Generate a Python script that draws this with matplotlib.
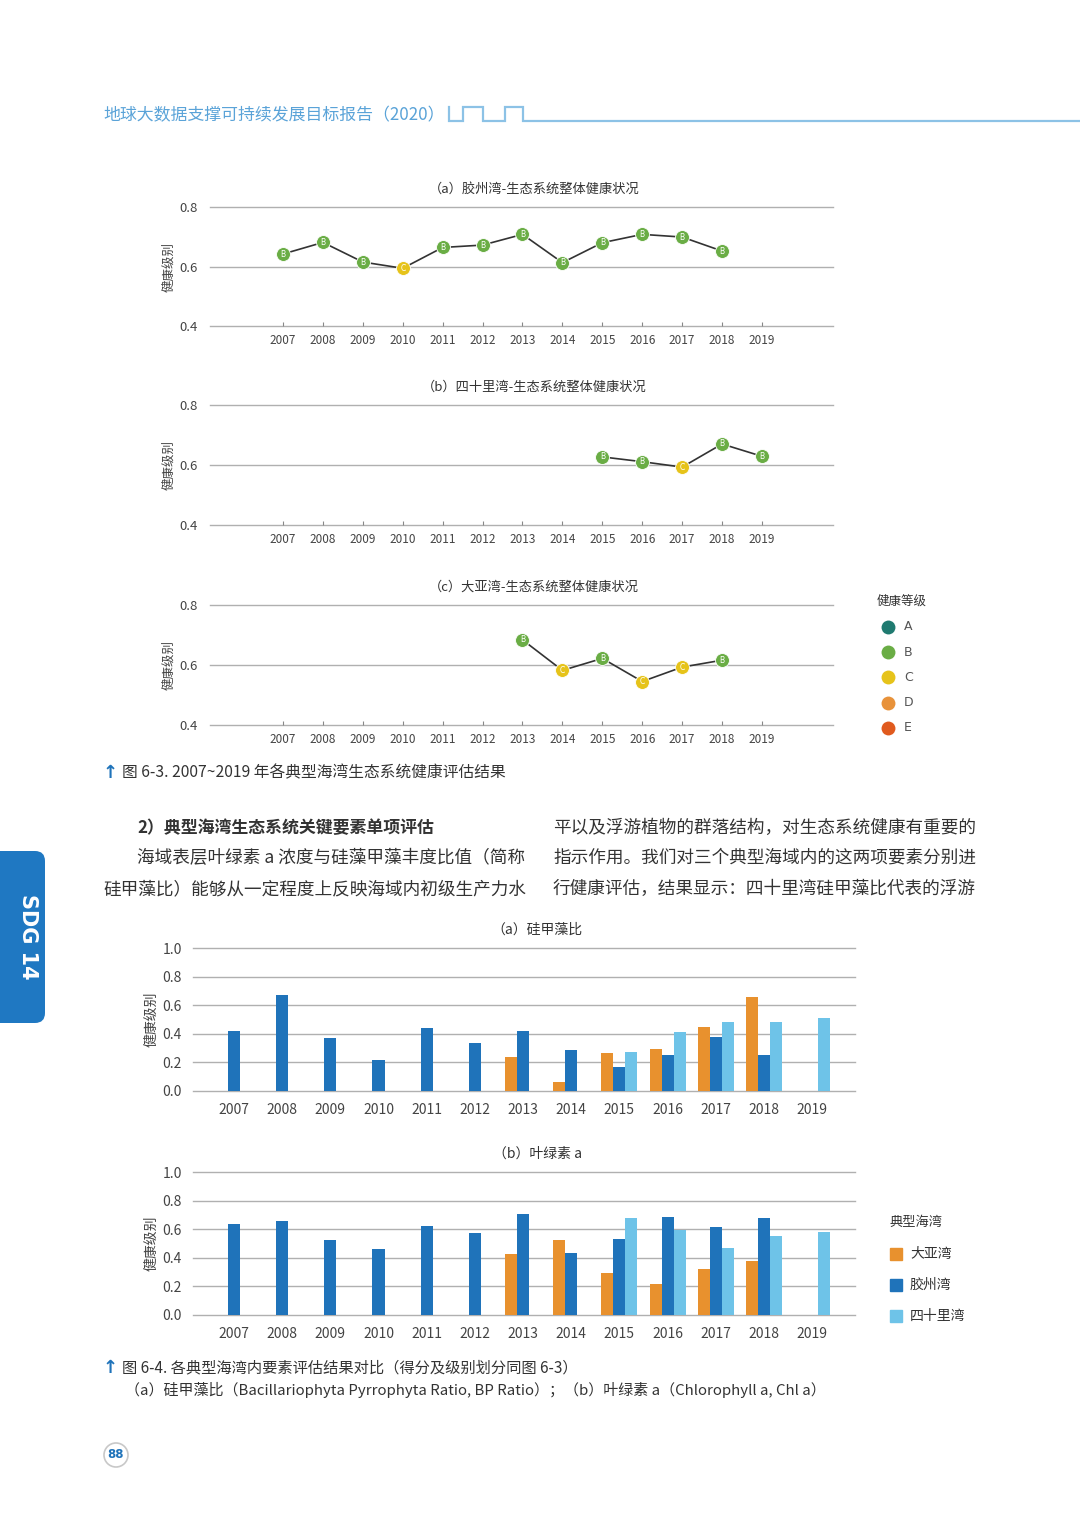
import matplotlib
matplotlib.use("Agg")
import matplotlib.pyplot as plt
from matplotlib.patches import FancyBboxPatch, Circle, Rectangle
import numpy as np

plt.rcParams['font.family'] = ['Noto Sans CJK SC', 'DejaVu Sans']
plt.rcParams['axes.unicode_minus'] = False

W, H = 1080, 1527

# ---------------- data ----------------
years = list(range(2007, 2020))

# (a) 胶州湾 overall health
jzw_years = list(range(2007, 2019))
jzw_vals = [0.642, 0.681, 0.615, 0.594, 0.664, 0.672, 0.708, 0.613, 0.680, 0.708, 0.699, 0.652]
jzw_grades = ['B', 'B', 'B', 'C', 'B', 'B', 'B', 'B', 'B', 'B', 'B', 'B']

# (b) 四十里湾 overall health
slw_years = [2015, 2016, 2017, 2018, 2019]
slw_vals = [0.627, 0.611, 0.593, 0.670, 0.629]
slw_grades = ['B', 'B', 'C', 'B', 'B']

# (c) 大亚湾 overall health
dyw_years = [2013, 2014, 2015, 2016, 2017, 2018]
dyw_vals = [0.684, 0.582, 0.622, 0.545, 0.593, 0.616]
dyw_grades = ['B', 'C', 'B', 'C', 'C', 'B']

grade_names = ['A', 'B', 'C', 'D', 'E']
grade_colors = {'A': '#1f7a70', 'B': '#6aad45', 'C': '#e6c31a', 'D': '#e8923a', 'E': '#e05a1e'}

# Bar chart (a) 硅甲藻比
bp_dyw = {2013: 0.239, 2014: 0.063, 2015: 0.265, 2016: 0.291, 2017: 0.448, 2018: 0.660}
bp_jzw = {2007: 0.423, 2008: 0.674, 2009: 0.369, 2010: 0.214, 2011: 0.444, 2012: 0.333,
          2013: 0.423, 2014: 0.286, 2015: 0.167, 2016: 0.251, 2017: 0.378, 2018: 0.251}
bp_slw = {2015: 0.272, 2016: 0.411, 2017: 0.481, 2018: 0.481, 2019: 0.507}

# Bar chart (b) 叶绿素 a
chl_dyw = {2013: 0.430, 2014: 0.526, 2015: 0.296, 2016: 0.218, 2017: 0.322, 2018: 0.376}
chl_jzw = {2007: 0.638, 2008: 0.657, 2009: 0.526, 2010: 0.460, 2011: 0.620, 2012: 0.573,
           2013: 0.709, 2014: 0.434, 2015: 0.533, 2016: 0.685, 2017: 0.617, 2018: 0.678}
chl_slw = {2015: 0.676, 2016: 0.596, 2017: 0.472, 2018: 0.554, 2019: 0.582}

bay_names = ['大亚湾', '胶州湾', '四十里湾']
bay_colors = ['#e8912e', '#1f73ba', '#6ec3e8']

# ---------------- figure ----------------
fig = plt.figure(figsize=(W / 100, H / 100), dpi=100)
fig.patch.set_facecolor('white')

def ax_px(x0, y0, x1, y1):
    return fig.add_axes([x0 / W, 1 - y1 / H, (x1 - x0) / W, (y1 - y0) / H])

GRID = '#b0b0b0'
TXT = '#444444'

def line_chart(y_top, y_bot, xs, vals, grades, title):
    ax = ax_px(210, y_top, 833, y_bot)
    ax.set_xlim(2005.17, 2020.78)
    ax.set_ylim(0.4, 0.8)
    for s in ax.spines.values():
        s.set_visible(False)
    for yv in [0.4, 0.6, 0.8]:
        ax.axhline(yv, color=GRID, lw=1.0, zorder=0, clip_on=False)
    ax.set_yticks([0.4, 0.6, 0.8])
    ax.set_yticklabels(['0.4', '0.6', '0.8'])
    ax.set_xticks(years)
    ax.set_xticklabels([str(y) for y in years])
    ax.tick_params(axis='y', length=0, pad=9, labelsize=9.5, labelcolor=TXT)
    ax.tick_params(axis='x', direction='in', length=3, color='#888888', pad=6,
                   labelsize=8.5, labelcolor=TXT)
    ax.plot(xs, vals, color='#333333', lw=1.2, zorder=2, clip_on=False)
    for x, v, g in zip(xs, vals, grades):
        ax.plot(x, v, 'o', ms=10, mfc=grade_colors[g], mec='#ffffff', mew=0.6,
                zorder=3, clip_on=False)
        ax.text(x, v, g, ha='center', va='center', fontsize=5.5, color='white',
                family='DejaVu Sans', zorder=4)
    ax.set_ylabel('健康级别', fontsize=9, color=TXT, labelpad=3)
    ax.set_title(title, fontsize=9.5, color='#333333', pad=10, x=0.52)
    return ax

line_chart(207, 326, jzw_years, jzw_vals, jzw_grades, '（a）胶州湾-生态系统整体健康状况')
line_chart(405, 525, slw_years, slw_vals, slw_grades, '（b）四十里湾-生态系统整体健康状况')
line_chart(605, 725, dyw_years, dyw_vals, dyw_grades, '（c）大亚湾-生态系统整体健康状况')

def bar_chart(y_top, y_bot, series, title):
    ax = ax_px(193, y_top, 855, y_bot)
    ax.set_xlim(2006.15, 2019.89)
    ax.set_ylim(0.0, 1.0)
    for s in ax.spines.values():
        s.set_visible(False)
    for yv in np.arange(0, 1.01, 0.2):
        ax.axhline(yv, color=GRID, lw=1.0, zorder=0, clip_on=False)
    offsets = [-0.25, 0.0, 0.25]
    for data, off, col in zip(series, offsets, bay_colors):
        xs = [y + off for y in data.keys()]
        ax.bar(xs, list(data.values()), width=0.25, color=col, zorder=2)
    ax.set_yticks([0.0, 0.2, 0.4, 0.6, 0.8, 1.0])
    ax.set_yticklabels(['0.0', '0.2', '0.4', '0.6', '0.8', '1.0'])
    ax.set_xticks(years)
    ax.set_xticklabels([str(y) for y in years])
    ax.tick_params(axis='y', length=0, pad=8, labelsize=10, labelcolor=TXT)
    ax.tick_params(axis='x', length=0, pad=9, labelsize=10, labelcolor=TXT)
    ax.set_ylabel('健康级别', fontsize=10, color=TXT, labelpad=3)
    ax.set_title(title, fontsize=10, color='#333333', pad=10, x=0.52)
    return ax

bar_chart(948, 1091, [bp_dyw, bp_jzw, bp_slw], '（a）硅甲藻比')
bar_chart(1172, 1315, [chl_dyw, chl_jzw, chl_slw], '（b）叶绿素 a')

# ---------------- overlay for page decorations ----------------
ov = fig.add_axes([0, 0, 1, 1], zorder=-1)
ov.set_xlim(0, W)
ov.set_ylim(H, 0)
ov.axis('off')

# header
HEAD = '#5aa3d8'
ov.text(103, 115, '地球大数据支撑可持续发展目标报告（2020）', fontsize=12.2, color=HEAD,
        ha='left', va='center')
hx = [449, 449, 463, 463, 483, 483, 505, 505, 523, 523, 1080]
hy = [107, 121, 121, 107, 107, 121, 121, 107, 107, 121, 121]
ov.plot(hx, hy, color='#8cc2e6', lw=1.6, solid_joinstyle='miter')

# legend 1: 健康等级
ov.text(877, 601, '健康等级', fontsize=9, color='#333333', ha='left', va='center')
for i, g in enumerate(grade_names):
    yy = 627 + 25.2 * i
    ov.plot(888, yy, 'o', ms=10, mfc=grade_colors[g], mec='none')
    ov.text(904, yy, g, fontsize=9, color='#555555', ha='left', va='center',
            family='DejaVu Sans')

# caption 1
ARROW = '#1f73ba'
ov.text(103, 773, '↑', fontsize=13, color=ARROW, ha='left', va='center',
        family='DejaVu Sans', fontweight='bold')
ov.text(122, 773, '图 6-3. 2007~2019 年各典型海湾生态系统健康评估结果', fontsize=11.3,
        color='#333333', ha='left', va='center')

# body text
BODY = '#333333'
FS = 12.7
ov.text(137, 828, '2）典型海湾生态系统关键要素单项评估', fontsize=12.2, color=BODY,
        ha='left', va='center', fontweight='bold')
ov.text(137, 858, '海域表层叶绿素 a 浓度与硅藻甲藻丰度比值（简称', fontsize=FS, color=BODY,
        ha='left', va='center')
ov.text(103, 889, '硅甲藻比）能够从一定程度上反映海域内初级生产力水', fontsize=FS, color=BODY,
        ha='left', va='center')
ov.text(553, 828, '平以及浮游植物的群落结构，对生态系统健康有重要的', fontsize=FS, color=BODY,
        ha='left', va='center')
ov.text(553, 858, '指示作用。我们对三个典型海域内的这两项要素分别进', fontsize=FS, color=BODY,
        ha='left', va='center')
ov.text(553, 889, '行健康评估，结果显示：四十里湾硅甲藻比代表的浮游', fontsize=FS, color=BODY,
        ha='left', va='center')

# legend 2: 典型海湾
ov.text(890, 1222, '典型海湾', fontsize=9.5, color='#333333', ha='left', va='center')
for i, (nm, col) in enumerate(zip(bay_names, bay_colors)):
    yy = 1254 + 31 * i
    ov.add_patch(Rectangle((890, yy - 6), 12, 12, color=col))
    ov.text(910, yy, nm, fontsize=10, color='#333333', ha='left', va='center')

# caption 2
ov.text(103, 1368, '↑', fontsize=13, color=ARROW, ha='left', va='center',
        family='DejaVu Sans', fontweight='bold')
ov.text(122, 1368, '图 6-4. 各典型海湾内要素评估结果对比（得分及级别划分同图 6-3）', fontsize=11.0,
        color='#333333', ha='left', va='center')
ov.text(125, 1390, '（a）硅甲藻比（Bacillariophyta Pyrrophyta Ratio, BP Ratio）；（b）叶绿素 a（Chlorophyll a, Chl a）',
        fontsize=10.8, color='#333333', ha='left', va='center')

# SDG tab
ov.add_patch(FancyBboxPatch((-20, 851), 65, 172, boxstyle='round,pad=0,rounding_size=10',
                            fc='#1f78c2', ec='none'))
ov.text(28, 937, 'SDG 14', fontsize=15, color='white', fontweight='bold', rotation=-90,
        ha='center', va='center', family='DejaVu Sans')

# page number
ov.add_patch(Circle((116, 1455), 12, fc='white', ec='#c8c8c8', lw=1.2))
ov.text(116, 1455, '88', fontsize=8.5, color='#1f73ba', fontweight='bold',
        ha='center', va='center', family='DejaVu Sans')

fig.savefig('out.png', dpi=100, facecolor='white')
